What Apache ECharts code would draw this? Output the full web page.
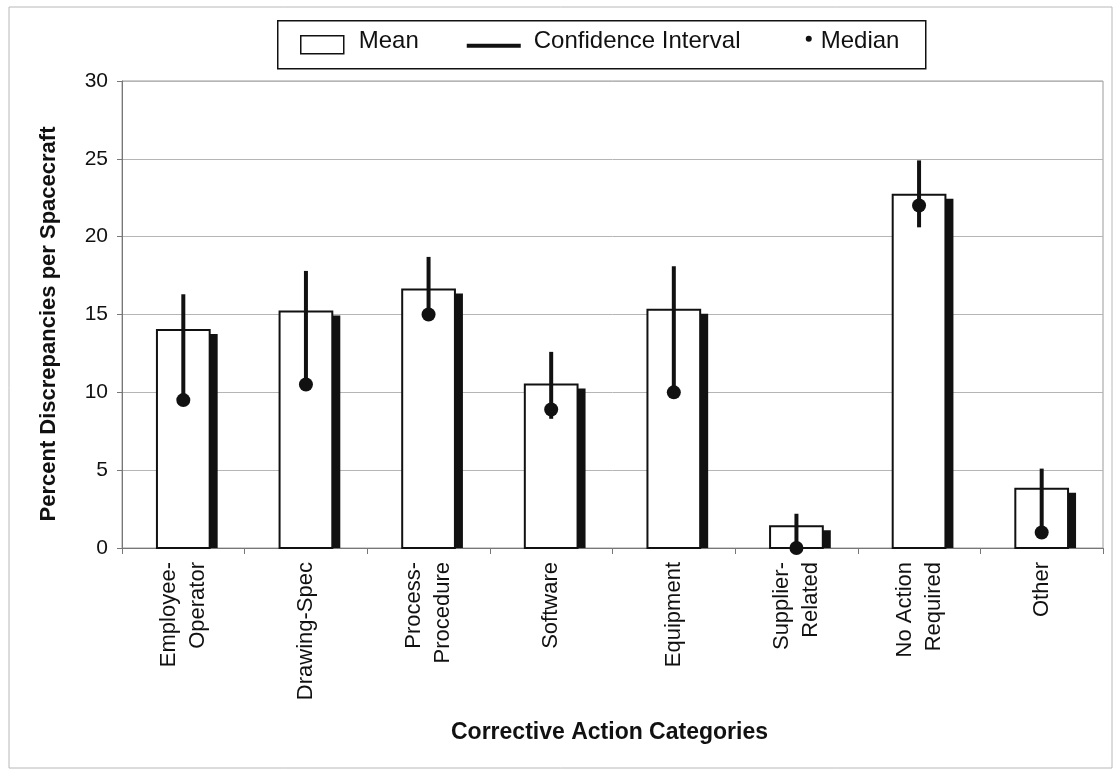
<!DOCTYPE html>
<html>
<head>
<meta charset="utf-8">
<title>Corrective Action Categories</title>
<script src="https://cdn.jsdelivr.net/npm/echarts@6/dist/echarts.min.js"></script>
<style>
  html, body { margin: 0; padding: 0; background: #fff; }
  #chart { width: 1115px; height: 771px; }
</style>
</head>
<body>
<div id="chart"></div>
<script>
// Categories of corrective action
const categories = [
  'Employee-\nOperator', 'Drawing-Spec', 'Process-\nProcedure', 'Software',
  'Equipment', 'Supplier-\nRelated', 'No Action\nRequired', 'Other'
];
// Mean percent discrepancies per spacecraft
const meanValues = [14.0, 15.2, 16.6, 10.5, 15.3, 1.4, 22.7, 3.8];
// Median percent discrepancies per spacecraft
const medianValues = [9.5, 10.5, 15.0, 8.9, 10.0, 0.0, 22.0, 1.0];
// Confidence interval: lower and upper ends of each vertical line
const ciLow = [9.5, 10.5, 14.6, 8.3, 10.0, 0.0, 20.6, 1.0];
const ciHigh = [16.3, 17.8, 18.7, 12.6, 18.1, 2.2, 24.9, 5.1];
// Value axis ticks
const yTicks = { min: 0, max: 30, interval: 5 };

const FONT = '"Liberation Sans", Arial, sans-serif';

const chart = echarts.init(document.getElementById('chart'), null, { renderer: 'canvas' });

const meanData = meanValues.map((v, i) => [i, v]);
const ciData = ciLow.map((v, i) => [i, v, ciHigh[i]]);
const medianData = medianValues.map((v, i) => [i, v]);

function renderMeanBar(params, api) {
  const idx = api.value(0);
  const base = api.coord([idx, 0]);
  const top = api.coord([idx, api.value(1)]);
  const w = api.size([1, 0])[0] * 0.43;
  const x = base[0] - w / 2;
  const h = base[1] - top[1];
  return {
    type: 'group',
    children: [
      { // dark drop shadow behind the bar
        type: 'rect',
        shape: { x: x + 8, y: top[1] + 4, width: w, height: Math.max(h - 4, 0) },
        style: { fill: '#111' }
      },
      {
        type: 'rect',
        shape: { x: x, y: top[1], width: w, height: h },
        style: { fill: '#fff', stroke: '#111', lineWidth: 2 }
      }
    ]
  };
}

function renderCI(params, api) {
  const idx = api.value(0);
  const lo = api.coord([idx, api.value(1)]);
  const hi = api.coord([idx, api.value(2)]);
  return {
    type: 'line',
    shape: { x1: lo[0], y1: lo[1], x2: hi[0], y2: hi[1] },
    style: { stroke: '#111', lineWidth: 4 }
  };
}

const option = {
  backgroundColor: '#fff',
  animation: false,
  grid: {
    left: 122, right: 12, top: 81, bottom: 223,
    show: true, borderColor: '#9a9a9a', borderWidth: 1, backgroundColor: 'transparent'
  },
  xAxis: {
    type: 'category',
    data: categories,
    boundaryGap: true,
    name: 'Corrective Action Categories',
    nameLocation: 'middle',
    nameGap: 173,
    nameTextStyle: { fontFamily: FONT, fontSize: 23, fontWeight: 'bold', color: '#111', padding: [0, 6, 0, 0] },
    axisLine: { lineStyle: { color: '#777', width: 1 } },
    axisTick: { show: true, alignWithLabel: false, length: 6, lineStyle: { color: '#777' } },
    axisLabel: {
      rotate: 90, margin: 14, interval: 0,
      fontFamily: FONT, fontSize: 22, lineHeight: 29, color: '#111'
    },
    splitLine: { show: false }
  },
  yAxis: {
    type: 'value',
    min: yTicks.min, max: yTicks.max, interval: yTicks.interval,
    name: 'Percent Discrepancies per Spacecraft',
    nameLocation: 'middle',
    nameRotate: 90,
    nameGap: 62,
    nameTextStyle: {
      fontFamily: FONT, fontSize: 22, fontWeight: 'bold', color: '#111',
      padding: [0, 19, 0, 0]
    },
    axisLine: { show: true, lineStyle: { color: '#777', width: 1 } },
    axisTick: { show: true, length: 5, lineStyle: { color: '#777' } },
    axisLabel: { margin: 14, fontFamily: FONT, fontSize: 21, color: '#111' },
    splitLine: { show: true, lineStyle: { color: '#b5b5b5', width: 1 } }
  },
  series: [
    {
      name: 'Mean', type: 'custom', renderItem: renderMeanBar,
      data: meanData, encode: { x: 0, y: 1 }, z: 2
    },
    {
      name: 'Confidence Interval', type: 'custom', renderItem: renderCI,
      data: ciData, encode: { x: 0, y: [1, 2] }, z: 3
    },
    {
      name: 'Median', type: 'scatter', data: medianData,
      symbol: 'circle', symbolSize: 14,
      itemStyle: { color: '#111', opacity: 1 }, z: 4
    }
  ],
  graphic: [
    { // outer frame of the chart
      type: 'rect', silent: true, z: -1,
      shape: { x: 9, y: 7, width: 1103, height: 761 },
      style: { fill: 'none', stroke: '#b8b8b8', lineWidth: 1 }
    },
    { // legend box
      type: 'group', left: 277, top: 20,
      children: [
        { type: 'rect', shape: { x: 0, y: 0, width: 648, height: 48 },
          style: { fill: '#fff', stroke: '#111', lineWidth: 1.5 } },
        { type: 'rect', shape: { x: 23, y: 15, width: 43, height: 18 },
          style: { fill: '#fff', stroke: '#111', lineWidth: 1.5 } },
        { type: 'text', x: 81, y: 21,
          style: { text: 'Mean', fontFamily: FONT, fontSize: 24, fill: '#111', verticalAlign: 'middle' } },
        { type: 'line', shape: { x1: 189, y1: 25, x2: 243, y2: 25 },
          style: { stroke: '#111', lineWidth: 4 } },
        { type: 'text', x: 256, y: 21,
          style: { text: 'Confidence Interval', fontFamily: FONT, fontSize: 24, fill: '#111', verticalAlign: 'middle' } },
        { type: 'circle', shape: { cx: 531, cy: 18, r: 3 }, style: { fill: '#111' } },
        { type: 'text', x: 543, y: 21,
          style: { text: 'Median', fontFamily: FONT, fontSize: 24, fill: '#111', verticalAlign: 'middle' } }
      ]
    }
  ]
};

chart.setOption(option);
</script>
</body>
</html>
